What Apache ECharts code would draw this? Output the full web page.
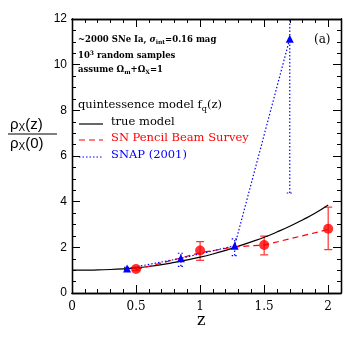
<!DOCTYPE html>
<html>
<head>
<meta charset="utf-8">
<script src="https://cdn.jsdelivr.net/npm/echarts@6/dist/echarts.min.js"></script>
<style>
  html, body { margin: 0; padding: 0; background: #fff; }
  #chart { width: 360px; height: 360px; }
</style>
</head>
<body>
<div id="chart"></div>
<script>
// true quintessence model f_q(z)
const modelZ = [0, 0.1, 0.2, 0.3, 0.4, 0.5, 0.6, 0.7, 0.8, 0.9, 1.0, 1.1, 1.2, 1.3, 1.4, 1.5, 1.6, 1.7, 1.8, 1.9, 2.0];
const modelF = [1.00, 1.00, 1.01, 1.03, 1.06, 1.10, 1.16, 1.24, 1.34, 1.45, 1.57, 1.71, 1.87, 2.05, 2.24, 2.44, 2.67, 2.92, 3.20, 3.50, 3.85];

// SN Pencil Beam Survey (red)
const pbZ = [0.5, 1.0, 1.5, 2.0];
const pbF = [1.05, 1.86, 2.10, 2.81];
const pbLow = [0.98, 1.43, 1.67, 1.90];
const pbHigh = [1.12, 2.25, 2.49, 3.76];
const pbFitZ = [0.5, 1.0, 1.27, 1.5, 2.0];
const pbFitF = [1.02, 1.76, 2.02, 2.10, 2.78];

// SNAP (2001) (blue)
const snapZ = [0.43, 0.85, 1.27, 1.7];
const snapF = [1.07, 1.52, 2.07, 11.14];
const snapLow = [1.02, 1.17, 1.64, 4.38];
const snapHigh = [1.12, 1.74, 2.37, 14.0];

const xTicks = ['0', '0.5', '1', '1.5', '2'];
const yTicks = ['0', '2', '4', '6', '8', '10', '12'];

const chart = echarts.init(document.getElementById('chart'));

const serif = 'DejaVu Serif';
const sans = 'Liberation Sans';

function zip(a, b) { return a.map((v, i) => [v, b[i]]); }

function errItem(color, dash, cap) {
  return function (params, api) {
    const x = api.value(0);
    const lo = api.coord([x, api.value(1)]);
    const hi = api.coord([x, api.value(2)]);
    const style = { stroke: color, lineWidth: 1.2, lineDash: dash };
    return {
      type: 'group',
      children: [
        { type: 'line', shape: { x1: lo[0], y1: lo[1], x2: hi[0], y2: hi[1] }, style },
        { type: 'line', shape: { x1: lo[0] - cap, y1: lo[1], x2: lo[0] + cap, y2: lo[1] }, style },
        { type: 'line', shape: { x1: hi[0] - cap, y1: hi[1], x2: hi[0] + cap, y2: hi[1] }, style }
      ]
    };
  };
}

const grid = { left: 72, right: 19, top: 19, bottom: 67 };

function xAxis(interval, len, pos, labels) {
  return {
    type: 'value', min: 0, max: 2.1, interval, position: pos,
    axisLine: { show: true, onZero: false, lineStyle: { color: '#000', width: 1.3 } },
    axisTick: { show: true, inside: true, length: len, lineStyle: { color: '#000' } },
    splitLine: { show: false },
    axisLabel: labels ? {
      show: true, margin: 8, color: '#000', fontFamily: serif, fontSize: 12,
      formatter: v => { const i = Math.round(v / 0.5); return Math.abs(v - i * 0.5) < 1e-6 ? (xTicks[i] || '') : ''; }
    } : { show: false }
  };
}

function yAxis(interval, len, pos, labels) {
  return {
    type: 'value', min: 0, max: 12, interval, position: pos,
    axisLine: { show: true, onZero: false, lineStyle: { color: '#000', width: 1.3 } },
    axisTick: { show: true, inside: true, length: len, lineStyle: { color: '#000' } },
    splitLine: { show: false },
    axisLabel: labels ? {
      show: true, margin: 5, color: '#000', fontFamily: sans, fontSize: 12,
      formatter: v => yTicks[Math.round(v / 2)] || ''
    } : { show: false }
  };
}

const legendX = 79;
const legendRows = [
  { y: 124, text: 'true model', color: '#000', dash: null },
  { y: 140, text: 'SN Pencil Beam Survey', color: '#ff0000', dash: [6, 4] },
  { y: 157, text: 'SNAP (2001)', color: '#0000ff', dash: [1.5, 2] }
];

const graphics = [];
legendRows.forEach(r => {
  graphics.push({ type: 'line', shape: { x1: legendX, y1: r.y, x2: legendX + 24, y2: r.y },
    style: { stroke: r.color, lineWidth: 1.2, lineDash: r.dash } });
  graphics.push({ type: 'text', left: legendX + 32, top: r.y - 8,
    style: { text: r.text, fill: r.color, font: '11.5px "' + serif + '"' } });
});

const note = 'bold 8.5px "' + serif + '"';
graphics.push(
  { type: 'text', left: 78, top: 99, style: {
    text: 'quintessence model f{s|q}(z)',
    font: '11.5px "' + serif + '"', fill: '#000',
    rich: { s: { fontSize: 8, fontFamily: serif, padding: [7, 0, 0, 0] } } } },
  { type: 'text', left: 78, top: 35, style: {
    text: '~2000 SNe Ia, {i|σ}{s|int}=0.16 mag',
    font: note, fill: '#000',
    rich: { i: { fontStyle: 'italic', fontWeight: 'bold', fontSize: 8.5, fontFamily: serif },
            s: { fontSize: 6, fontWeight: 'bold', fontFamily: serif, padding: [5, 0, 0, 0] } } } },
  { type: 'text', left: 78, top: 50, style: {
    text: '10{p|3} random samples',
    font: note, fill: '#000',
    rich: { p: { fontSize: 6, fontWeight: 'bold', fontFamily: serif, padding: [0, 0, 5, 0] } } } },
  { type: 'text', left: 78, top: 65, style: {
    text: 'assume Ω{s|m}+Ω{s|X}=1',
    font: note, fill: '#000',
    rich: { s: { fontSize: 6, fontWeight: 'bold', fontFamily: serif, padding: [5, 0, 0, 0] } } } },
  { type: 'text', left: 314, top: 34, style: { text: '(a)', font: '12px "' + serif + '"', fill: '#000' } },
  { type: 'text', left: 197, top: 313, style: { text: 'z', font: '16px "' + serif + '"', fill: '#000' } },
  { type: 'text', left: 10, top: 117, style: {
    text: 'ρ{s|X}(z)', font: '15px "' + sans + '"', fill: '#000',
    rich: { s: { fontSize: 10, fontFamily: sans, padding: [8, 0, 0, 0] } } } },
  { type: 'line', shape: { x1: 8, y1: 134, x2: 57, y2: 134 }, style: { stroke: '#000', lineWidth: 1 } },
  { type: 'text', left: 10, top: 136, style: {
    text: 'ρ{s|X}(0)', font: '15px "' + sans + '"', fill: '#000',
    rich: { s: { fontSize: 10, fontFamily: sans, padding: [8, 0, 0, 0] } } } }
);

const option = {
  backgroundColor: '#fff',
  animation: false,
  grid,
  xAxis: [
    xAxis(0.5, 8, 'bottom', true),
    xAxis(0.1, 4, 'bottom', false),
    xAxis(0.5, 8, 'top', false),
    xAxis(0.1, 4, 'top', false)
  ],
  yAxis: [
    yAxis(2, 8, 'left', true),
    yAxis(0.5, 4, 'left', false),
    yAxis(2, 8, 'right', false),
    yAxis(0.5, 4, 'right', false)
  ],
  graphic: graphics,
  series: [
    {
      name: 'true model', type: 'line', smooth: true, showSymbol: false,
      data: zip(modelZ, modelF),
      lineStyle: { color: '#000', width: 1.2 }
    },
    {
      name: 'SN Pencil Beam Survey fit', type: 'line', showSymbol: false,
      data: zip(pbFitZ, pbFitF),
      lineStyle: { color: '#ff0000', width: 1.2, type: [6, 4] }
    },
    {
      name: 'SNAP (2001)', type: 'line', clip: true,
      data: zip(snapZ, snapF),
      symbol: 'triangle', symbolSize: 8,
      itemStyle: { color: '#0000ff' },
      lineStyle: { color: '#0000ff', width: 1.2, type: [1.5, 2] }
    },
    {
      type: 'custom', clip: true,
      renderItem: errItem('#0000ff', [1.5, 2], 3),
      data: snapZ.map((z, i) => [z, snapLow[i], snapHigh[i]]),
      z: 3
    },
    {
      type: 'custom', clip: true,
      renderItem: errItem('#ff3030', null, 4),
      data: pbZ.map((z, i) => [z, pbLow[i], pbHigh[i]]),
      z: 3
    },
    {
      name: 'SN Pencil Beam Survey', type: 'scatter',
      data: zip(pbZ, pbF),
      symbol: 'circle', symbolSize: 10,
      itemStyle: { color: '#ff0000' }, z: 4
    }
  ]
};

chart.setOption(option);
</script>
</body>
</html>
